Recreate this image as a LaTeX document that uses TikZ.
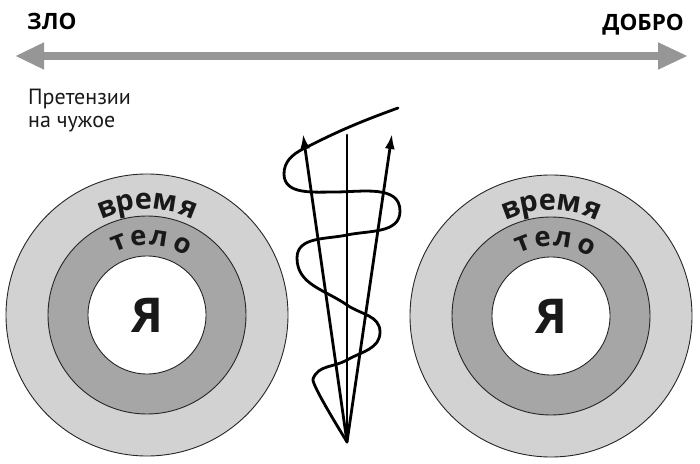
\documentclass[tikz,border=0pt]{standalone}
\usepackage{fontspec}
\setmainfont{Open Sans}
\newfontfamily\labelfont{PT Sans}
\usetikzlibrary{arrows.meta,calc}
\definecolor{ringout}{RGB}{210,210,210}
\definecolor{ringmid}{RGB}{166,166,166}
\definecolor{axisgray}{RGB}{150,150,150}
\definecolor{inkdark}{RGB}{25,25,25}
\begin{document}
\begin{tikzpicture}[x=1pt,y=1pt,
  ring/.style={circle,draw=black!85,line width=0.9pt,inner sep=0pt},
  fig/.style={line width=2.8pt,black,line cap=round,line join=round},
  headlbl/.style={inner sep=0pt,font=\bfseries\fontsize{22.5}{26}\selectfont,text=black},
  notelbl/.style={inner sep=0pt,anchor=base west,font=\labelfont\fontsize{22}{24}\selectfont,text=inkdark},
  ringlbl/.style={inner sep=0pt,anchor=base,font=\bfseries\fontsize{29}{32}\selectfont,text=inkdark},
  bodylbl/.style={inner sep=0pt,anchor=base,font=\bfseries\fontsize{27.5}{30}\selectfont,text=inkdark},
  ya/.style={font=\bfseries\fontsize{48}{52}\selectfont,text=inkdark}]
\useasboundingbox (0,0) rectangle (700,463);

% top axis
\coordinate (evil) at (15,407);
\coordinate (good) at (688,407);
\draw[axisgray,line width=8pt,{Triangle[length=29pt,width=25pt]}-{Triangle[length=30pt,width=25pt]}] (evil) -- (good);
\node[headlbl,anchor=base west] (zlo) at (27,433) {ЗЛО};
\node[headlbl,anchor=base east] (dobro) at (684,432) {ДОБРО};

\node[notelbl] (pret1) at (28,358) {Претензии};
\node[notelbl] (pret2) at (28,335) {на чужое};

% circles
\foreach \nm/\cx/\cy in {L/147/148, R/551/147}{
  \node[ring,fill=ringout,minimum size=282pt] (\nm out) at (\cx,\cy) {};
  \node[ring,fill=ringmid,minimum size=198pt] (\nm mid) at (\cx,\cy) {};
  \node[ring,fill=white,minimum size=118pt,ya] (\nm in) at (\cx,\cy) {Я};
  \foreach \ch/\a [count=\i] in {в/20.6, р/10.9, е/1.8, м/-8.9, я/-21.4}{
    \node[ringlbl,rotate=\a] (\nm t\i) at ($(\cx,\cy)+(90+\a:106)$) {\ch};
  }
  \foreach \ch/\a [count=\i] in {т/21.1, е/6.3, л/-8.7, о/-26.9}{
    \node[bodylbl,rotate=\a] (\nm b\i) at ($(\cx,\cy)+(90+\a:70)$) {\ch};
  }
}

% central figure
\coordinate (apex) at (347,21);
\coordinate (ctop) at (347,328);
\coordinate (ltip) at (303,329);
\coordinate (rtip) at (392,329);
\coordinate (sstart) at (398,355);
\draw[fig] (apex) -- (ctop);
\draw[fig,-{Latex[length=15pt,width=10pt]}] (apex) -- (ltip);
\draw[fig,-{Latex[length=15pt,width=10pt]}] (apex) -- (rtip);
\draw[fig] (sstart) to[out=200,in=27] (303,314)
  to[out=207,in=90] (284,289)
  to[out=270,in=180] (335,271)
  to[out=0,in=90] (400,252)
  to[out=270,in=12] (347,228)
  to[out=192,in=90] (297,205)
  to[out=270,in=145] (347,158)
  to[out=325,in=90] (380,131)
  to[out=270,in=30] (347,103)
  to[out=210,in=70] (313,84)
  to[out=250,in=120,looseness=0.2] (apex);
\end{tikzpicture}
\end{document}
